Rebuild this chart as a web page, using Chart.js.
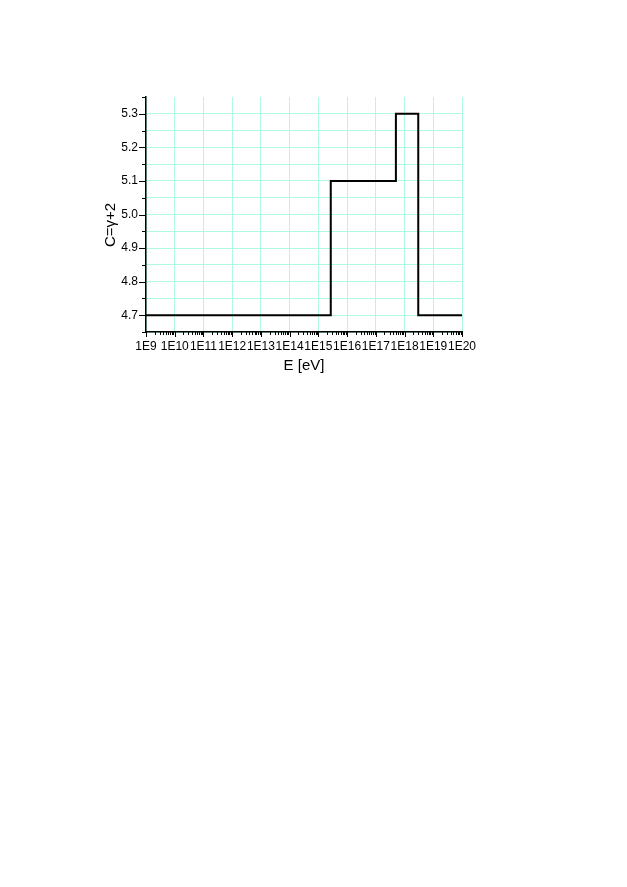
<!DOCTYPE html>
<html>
<head>
<meta charset="utf-8">
<script src="https://cdn.jsdelivr.net/npm/chart.js@4/dist/chart.umd.min.js"></script>
<style>
  html, body { margin: 0; padding: 0; background: #fff; }
  canvas { display: block; }
</style>
</head>
<body>
<canvas id="chart" width="627" height="887"></canvas>
<script>
// spectral index steps: C = gamma + 2 vs energy
const energies = [1e9, 2.7e15, 5e17, 3e18, 1e20];
const indexC = [4.7, 5.1, 5.3, 4.7, 4.7];

const xDecades = [9, 10, 11, 12, 13, 14, 15, 16, 17, 18, 19, 20];
const xTickLabels = ["1E9", "1E10", "1E11", "1E12", "1E13", "1E14", "1E15", "1E16", "1E17", "1E18", "1E19", "1E20"];
const yTickLabels = ["4.7", "4.8", "4.9", "5.0", "5.1", "5.2", "5.3"];
const yMinorTicks = [4.65, 4.75, 4.85, 4.95, 5.05, 5.15, 5.25, 5.35];

const gridColor = "#b0fae4";
const font = "'Liberation Sans', Arial, sans-serif";

// draw the outward axis ticks (major + minor)
const axisTicks = {
  id: "axisTicks",
  afterDraw: (chart) => {
    const ctx = chart.ctx;
    const x = chart.scales.x;
    const y = chart.scales.y;
    ctx.save();
    ctx.strokeStyle = "#000";
    ctx.lineWidth = 1;
    ctx.beginPath();
    yTickLabels.forEach((t) => {
      const py = Math.round(y.getPixelForValue(parseFloat(t))) + 0.5;
      ctx.moveTo(y.right - 7, py);
      ctx.lineTo(y.right, py);
    });
    yMinorTicks.forEach((v) => {
      const py = Math.round(y.getPixelForValue(v)) + 0.5;
      ctx.moveTo(y.right - 4, py);
      ctx.lineTo(y.right, py);
    });
    xDecades.forEach((d, i) => {
      const px = Math.round(x.getPixelForValue(Math.pow(10, d))) + 0.5;
      ctx.moveTo(px, x.top);
      ctx.lineTo(px, x.top + 5);
      if (i < xDecades.length - 1) {
        for (let m = 2; m <= 9; m++) {
          const pm = Math.round(x.getPixelForValue(m * Math.pow(10, d))) + 0.5;
          ctx.moveTo(pm, x.top);
          ctx.lineTo(pm, x.top + 3);
        }
      }
    });
    ctx.stroke();
    ctx.restore();
  },
};

new Chart(document.getElementById("chart"), {
  type: "line",
  data: {
    datasets: [
      {
        data: energies.map((e, i) => ({ x: e, y: indexC[i] })),
        borderColor: "#000",
        borderWidth: 2,
        stepped: "before",
        pointRadius: 0,
        fill: false,
      },
    ],
  },
  options: {
    responsive: false,
    animation: false,
    layout: {
      padding: { left: 98, top: 97, right: 165, bottom: 508 },
    },
    plugins: {
      legend: { display: false },
      tooltip: { enabled: false },
    },
    scales: {
      x: {
        type: "logarithmic",
        min: 1e9,
        max: 1e20,
        afterBuildTicks: (scale) => {
          scale.ticks = xDecades.map((d) => ({ value: Math.pow(10, d) }));
        },
        afterFit: (scale) => {
          scale.height = 47;
        },
        grid: {
          color: gridColor,
          lineWidth: 1,
          drawTicks: false,
        },
        border: { color: "#000", width: 1.5 },
        ticks: {
          autoSkip: false,
          maxRotation: 0,
          minRotation: 0,
          padding: 7,
          color: "#000",
          font: { family: font, size: 12 },
          callback: (value, index) => xTickLabels[index],
        },
        title: {
          display: true,
          text: "E [eV]",
          color: "#000",
          font: { family: font, size: 15 },
        },
      },
      y: {
        min: 4.65,
        max: 5.35,
        afterBuildTicks: (scale) => {
          const vals = yMinorTicks.concat(yTickLabels.map((t) => parseFloat(t)));
          vals.sort((a, b) => a - b);
          scale.ticks = vals.map((v) => ({ value: v }));
        },
        afterFit: (scale) => {
          scale.width = 48;
        },
        grid: {
          color: (c) => (c.tick && c.tick.value > 5.34 ? "rgba(0,0,0,0)" : gridColor),
          lineWidth: 1,
          drawTicks: false,
        },
        border: { color: "#000", width: 1.5 },
        ticks: {
          autoSkip: false,
          padding: 8,
          color: "#000",
          font: { family: font, size: 12 },
          callback: (value) => {
            const label = value.toFixed(1);
            return yTickLabels.includes(label) && Math.abs(value - parseFloat(label)) < 1e-6 ? label : "";
          },
        },
        title: {
          display: true,
          text: "C=\u03b3+2\u00a0\u00a0\u00a0\u00a0\u00a0",
          color: "#000",
          font: { family: font, size: 15 },
        },
      },
    },
  },
  plugins: [axisTicks],
});
</script>
</body>
</html>
